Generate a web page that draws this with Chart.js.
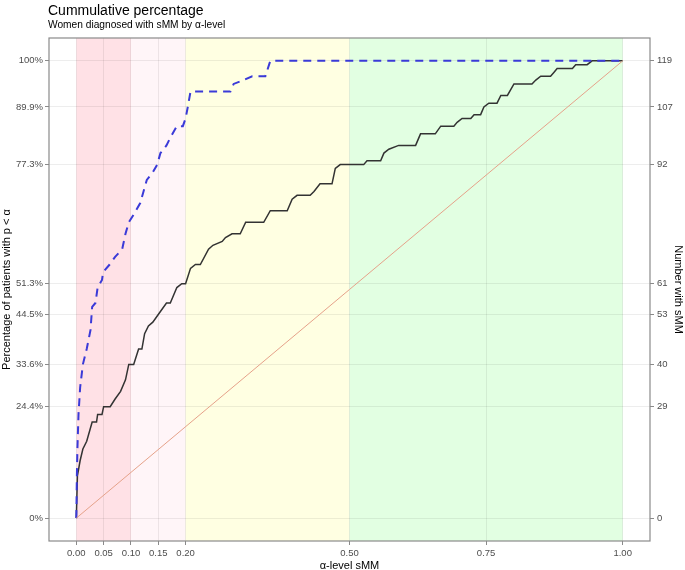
<!DOCTYPE html>
<html>
<head>
<meta charset="utf-8">
<script src="https://cdn.jsdelivr.net/npm/chart.js@4/dist/chart.umd.min.js"></script>
<style>
  body { margin: 0; background: #fff; font-family: "Liberation Sans", Arial, sans-serif; }
  #wrap { position: relative; width: 685px; height: 570px; }
  #title { position: absolute; left: 48px; top: 2px; font-size: 14px; color: #000; }
  #subtitle { position: absolute; left: 48px; top: 19px; font-size: 10.2px; color: #000; }
</style>
</head>
<body>
<div id="wrap">
  <canvas id="myChart" width="685" height="570"></canvas>
  <div id="title">Cummulative percentage</div>
  <div id="subtitle">Women diagnosed with sMM by α-level</div>
</div>
<script>
const total = 119;

// alpha-level ticks on x
const xTicks = [0, 0.05, 0.10, 0.15, 0.20, 0.50, 0.75, 1.00];
// counts marked on the right axis, percentages on the left
const yTickCounts = [0, 29, 40, 53, 61, 92, 107, 119];
const yTickLabels = ['0%', '24.4%', '33.6%', '44.5%', '51.3%', '77.3%', '89.9%', '100%'];

// shaded alpha bands
const bandStart = [0, 0.10, 0.20, 0.50];
const bandEnd = [0.10, 0.20, 0.50, 1.00];
const bandColor = ['#ffe1e6', '#fff5f8', '#ffffe2', '#e2ffe2'];

// observed (black) cumulative count vs alpha
const obsAlpha = [0, 0.002, 0.007, 0.012, 0.019, 0.029, 0.037, 0.039, 0.047, 0.05, 0.062, 0.071, 0.081, 0.09, 0.096,
  0.105, 0.114, 0.12, 0.125, 0.132, 0.14, 0.15, 0.165, 0.172, 0.184, 0.193, 0.2, 0.209, 0.218, 0.227, 0.242, 0.25,
  0.267, 0.273, 0.285, 0.30, 0.31, 0.343, 0.355, 0.386, 0.395, 0.404, 0.428, 0.435, 0.446, 0.468, 0.474, 0.483,
  0.526, 0.532, 0.557, 0.563, 0.572, 0.59, 0.621, 0.63, 0.657, 0.667, 0.691, 0.697, 0.706, 0.722, 0.728, 0.74,
  0.746, 0.755, 0.77, 0.777, 0.789, 0.801, 0.834, 0.841, 0.85, 0.868, 0.874, 0.88, 0.908, 0.914, 0.935, 0.944, 1.0];
const obsCount = [0, 11, 15, 18, 20, 25, 25, 27, 27, 29, 29, 31, 33, 36, 40,
  40, 44, 44, 48, 50, 51, 53, 56, 56, 60, 61, 61, 65, 66, 66, 70, 71,
  72, 73, 74, 74, 77, 77, 80, 80, 83, 84, 84, 85, 87, 87, 91, 92,
  92, 93, 93, 95, 96, 97, 97, 100, 100, 102, 102, 103, 104, 104, 105, 105,
  107, 108, 108, 110, 110, 113, 113, 114, 115, 115, 116, 117, 117, 118, 118, 119, 119];

// blue dashed curve
const altAlpha = [0, 0.001, 0.002, 0.004, 0.007, 0.012, 0.019, 0.026, 0.029, 0.035, 0.039, 0.047, 0.049, 0.061,
  0.071, 0.084, 0.09, 0.096, 0.105, 0.117, 0.123, 0.129, 0.14, 0.148, 0.154, 0.165, 0.172, 0.184, 0.195, 0.2,
  0.204, 0.209, 0.282, 0.288, 0.306, 0.322, 0.346, 0.355, 1.0];
const altCount = [0, 11, 18, 27, 34, 40, 44, 49, 55, 56, 60, 62, 64, 66,
  68, 70, 74, 77, 79, 82, 85, 88, 90, 92, 95, 97, 99, 102, 102, 104,
  107, 111, 111, 113, 114, 115, 115, 119, 119];

const toPts = (xs, cs) => xs.map((x, i) => ({ x: x, y: cs[i] / total }));

const tickFont = { family: 'Liberation Sans', size: 9.5 };
const titleFont = { family: 'Liberation Sans', size: 11 };

const bands = {
  id: 'bands',
  beforeDraw(chart) {
    const { ctx, chartArea, scales } = chart;
    ctx.save();
    bandStart.forEach((s, i) => {
      const x0 = scales.x.getPixelForValue(s);
      const x1 = scales.x.getPixelForValue(bandEnd[i]);
      ctx.fillStyle = bandColor[i];
      ctx.fillRect(x0, chartArea.top, x1 - x0, chartArea.bottom - chartArea.top);
    });
    ctx.restore();
  },
  afterDraw(chart) {
    const { ctx, chartArea } = chart;
    ctx.save();
    ctx.strokeStyle = '#8a8a8a';
    ctx.lineWidth = 1.2;
    ctx.strokeRect(chartArea.left, chartArea.top, chartArea.right - chartArea.left, chartArea.bottom - chartArea.top);
    ctx.restore();
  }
};

const ctx = document.getElementById('myChart').getContext('2d');
new Chart(ctx, {
  type: 'line',
  data: {
    datasets: [
      {
        data: [{ x: 0, y: 0 }, { x: 1, y: 1 }],
        borderColor: '#e6a28a',
        borderWidth: 1,
        pointRadius: 0
      },
      {
        data: toPts(altAlpha, altCount),
        borderColor: '#3a3ad8',
        borderWidth: 2,
        borderDash: [8, 6],
        pointRadius: 0
      },
      {
        data: toPts(obsAlpha, obsCount),
        borderColor: '#333333',
        borderWidth: 1.5,
        pointRadius: 0
      }
    ]
  },
  options: {
    responsive: false,
    animation: false,
    layout: { padding: { top: 38, left: 0, right: 0, bottom: 0 } },
    plugins: {
      legend: { display: false },
      tooltip: { enabled: false }
    },
    scales: {
      x: {
        type: 'linear',
        min: -0.05,
        max: 1.05,
        afterBuildTicks: (scale) => { scale.ticks = xTicks.map(v => ({ value: v })); },
        afterFit: (scale) => { scale.height = 29; },
        ticks: {
          autoSkip: false,
          maxRotation: 0,
          padding: 3,
          color: '#4d4d4d',
          font: tickFont,
          callback: (v) => v.toFixed(2)
        },
        grid: { color: 'rgba(0,0,0,0.07)', tickColor: '#8a8a8a', tickLength: 4 },
        border: { display: false },
        title: { display: true, text: 'α-level sMM', color: '#000', font: titleFont, padding: { top: 0, bottom: -3 } }
      },
      y: {
        type: 'linear',
        position: 'left',
        min: -0.05,
        max: 1.05,
        afterBuildTicks: (scale) => { scale.ticks = yTickCounts.map(c => ({ value: c / total })); },
        afterFit: (scale) => { scale.width = 49; },
        ticks: {
          autoSkip: false,
          padding: 2,
          color: '#4d4d4d',
          font: tickFont,
          callback: (v, i) => yTickLabels[i]
        },
        grid: { color: 'rgba(0,0,0,0.07)', tickColor: '#8a8a8a', tickLength: 4 },
        border: { display: false },
        title: { display: true, text: 'Percentage of patients with p < α', color: '#000', font: titleFont, padding: { top: 0, bottom: 0 } }
      },
      y2: {
        type: 'linear',
        position: 'right',
        min: -0.05,
        max: 1.05,
        afterBuildTicks: (scale) => { scale.ticks = yTickCounts.map(c => ({ value: c / total })); },
        afterFit: (scale) => { scale.width = 35; },
        ticks: {
          autoSkip: false,
          padding: 3,
          color: '#4d4d4d',
          font: tickFont,
          callback: (v, i) => String(yTickCounts[i])
        },
        grid: { drawOnChartArea: false, tickColor: '#8a8a8a', tickLength: 4 },
        border: { display: false },
        title: { display: true, text: 'Number with sMM', color: '#000', font: titleFont, padding: { top: 0, bottom: 0 } }
      }
    }
  },
  plugins: [bands]
});
</script>
</body>
</html>
